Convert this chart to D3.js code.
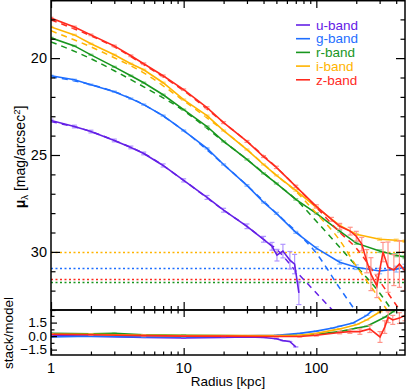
<!DOCTYPE html>
<meta charset="utf-8">
<style>
  body { margin: 0; background: #fff; }
  text { font-family: "Liberation Sans", Arial, sans-serif; fill: #000; }
  .axis path { display: none; }
  .axis line { stroke: #000; stroke-width: 1.2px; }
</style>
<svg width="407" height="390"></svg>
<script src="https://d3js.org/d3.v7.min.js"></script>
<script>
  // band names + colours
  var bands = ["u-band", "g-band", "r-band", "i-band", "z-band"];
  var colors = ["#6420e6", "#1e6eff", "#18961e", "#ffb400", "#ff2a1e"];
  var light = ["#b196ff", "#8cbaff", "#8ed28e", "#ffd680", "#ff948a"];

  // surface brightness profiles (radius kpc, mag/arcsec^2, error)
  var uR = [1, 1.5, 2, 3, 4, 5, 7, 10, 15, 20, 30, 40, 46.3, 50.5, 56, 63.2, 68.6, 73.9];
  var uMag = [23.22, 23.53, 23.79, 24.25, 24.61, 24.92, 25.54, 26.31, 27.19, 27.85, 28.68, 29.35, 29.71, 30.17, 29.96, 30.43, 30.63, 32.12];
  var uErr = [0.07, 0.07, 0.07, 0.07, 0.07, 0.07, 0.08, 0.08, 0.1, 0.1, 0.12, 0.15, 0.2, 0.3, 0.35, 0.45, 0.5, 0.6];

  var gR = [1, 1.5, 2, 3, 4, 5, 7, 10, 15, 20, 30, 40, 50, 70, 100, 150, 200, 300, 400, 466];
  var gMag = [20.91, 21.12, 21.37, 21.73, 22.09, 22.40, 22.97, 23.74, 24.66, 25.49, 26.57, 27.44, 28.01, 28.99, 29.81, 30.53, 30.79, 30.99, 30.89, 30.79];
  var gErr = [0.03, 0.03, 0.03, 0.03, 0.03, 0.03, 0.03, 0.03, 0.03, 0.03, 0.04, 0.04, 0.05, 0.05, 0.07, 0.1, 0.12, 0.14, 0.15, 0.15];

  var rR = [1, 1.5, 2, 3, 4, 5, 7, 10, 15, 20, 30, 40, 50, 70, 100, 150, 200, 300, 400, 466];
  var rMag = [18.95, 19.37, 19.83, 20.45, 20.91, 21.27, 21.89, 22.66, 23.53, 24.30, 25.23, 25.95, 26.47, 27.29, 28.01, 28.93, 29.55, 29.96, 30.17, 30.27];
  var rErr = [0.03, 0.03, 0.03, 0.03, 0.03, 0.03, 0.03, 0.03, 0.03, 0.03, 0.03, 0.03, 0.03, 0.04, 0.04, 0.05, 0.06, 0.07, 0.08, 0.08];

  var iR = [1, 1.5, 2, 3, 4, 5, 7, 10, 15, 20, 30, 40, 50, 70, 100, 150, 200, 300, 400, 466];
  var iMag = [18.39, 18.80, 19.26, 19.83, 20.29, 20.60, 21.27, 22.14, 22.97, 23.74, 24.72, 25.49, 26.05, 26.83, 27.70, 28.63, 29.09, 29.35, 29.40, 29.45];
  var iErr = [0.03, 0.03, 0.03, 0.03, 0.03, 0.03, 0.03, 0.03, 0.03, 0.03, 0.03, 0.03, 0.03, 0.04, 0.04, 0.05, 0.05, 0.06, 0.06, 0.06];

  var zR = [1, 1.5, 2, 3, 4, 5, 7, 10, 15, 20, 30, 40, 50, 70, 100, 130, 150, 180, 200, 220, 240, 258, 286, 318, 347, 384, 423, 466];
  var zMag = [17.93, 18.39, 18.80, 19.37, 19.88, 20.29, 20.91, 21.63, 22.56, 23.33, 24.30, 25.08, 25.64, 26.62, 27.65, 28.32, 28.68, 28.93, 29.19, 29.60, 30.48, 31.15, 31.76, 30.01, 30.79, 30.94, 30.63, 30.99];
  var zErr = [0.04, 0.04, 0.04, 0.04, 0.04, 0.04, 0.04, 0.04, 0.05, 0.05, 0.05, 0.05, 0.06, 0.06, 0.08, 0.1, 0.15, 0.2, 0.25, 0.35, 0.6, 0.85, 0.6, 0.5, 1.3, 0.8, 1.2, 1.0];

  // model fits (dashed)
  var uModR = [1, 2, 3, 5, 10, 20, 30, 40, 50, 70, 100, 150];
  var uModMag = [23.28, 23.79, 24.25, 24.92, 26.31, 27.85, 28.68, 29.35, 29.86, 30.99, 32.12, 33.41];
  var gModR = [1, 2, 3, 5, 10, 20, 30, 50, 70, 100, 150, 200];
  var gModMag = [20.96, 21.37, 21.73, 22.40, 23.74, 25.49, 26.57, 28.01, 28.93, 30.07, 31.87, 33.10];
  var rModR = [1, 2, 3, 5, 10, 20, 30, 50, 70, 100, 150, 200, 300, 400];
  var rModMag = [19.16, 20.03, 20.65, 21.48, 22.71, 24.30, 25.23, 26.47, 27.29, 28.42, 29.76, 30.73, 32.12, 33.36];
  var iModR = [1, 2, 3, 5, 10, 20, 30, 50, 70, 100, 150, 200, 300, 400];
  var iModMag = [18.59, 19.42, 19.98, 20.76, 22.20, 23.74, 24.72, 26.05, 26.88, 28.01, 29.40, 30.73, 32.43, 33.72];
  var zModR = [1, 2, 3, 5, 10, 20, 30, 50, 70, 100, 150, 200, 300, 400, 466];
  var zModMag = [18.03, 18.85, 19.42, 20.34, 21.68, 23.33, 24.30, 25.64, 26.62, 27.70, 28.99, 29.81, 31.51, 32.74, 33.36];

  // sky levels (dotted), g r i z
  var skyBand = [1, 2, 3, 4];
  var skyMag = [30.82, 31.56, 30.0, 31.39];

  // residuals, lower panel
  var uResR = [1, 2, 5, 10, 20, 30, 40, 50, 56, 63, 70];
  var uRes = [0.05, 0.0, -0.15, -0.2, -0.15, -0.1, -0.15, -0.3, -0.5, -0.6, -1.2];
  var gResR = [1, 2, 5, 10, 20, 50, 75, 100, 133, 150, 189, 240, 262, 300];
  var gRes = [-0.1, 0.0, -0.1, -0.1, 0.0, 0.1, 0.3, 0.55, 0.9, 1.1, 1.45, 2.3, 2.8, 3.5];
  var rResR = [1, 2, 3, 5, 10, 20, 50, 75, 100, 150, 203, 240, 328, 377, 420];
  var rRes = [0.3, 0.25, 0.3, 0.15, 0.1, 0.05, 0.0, 0.1, 0.2, 0.5, 0.9, 1.1, 2.1, 2.7, 3.2];
  var iResR = [1, 2, 5, 10, 20, 50, 75, 100, 150, 203, 240, 302, 330];
  var iRes = [0.2, 0.2, 0.1, 0.05, 0.05, 0.05, 0.1, 0.3, 0.8, 1.3, 1.8, 2.7, 3.2];
  var zResR = [1, 2, 5, 10, 20, 50, 75, 100, 150, 179, 213, 253, 302, 328, 348, 377, 423, 466];
  var zRes = [0.2, 0.15, 0.05, 0.0, 0.0, -0.05, -0.05, 0.1, 0.4, 0.5, 0.5, 0.8, -0.1, 1.0, 2.1, 1.8, 2.0, 2.3];
  var zResErr = [0.05, 0.05, 0.05, 0.05, 0.05, 0.05, 0.05, 0.1, 0.15, 0.2, 0.3, 0.4, 0.6, 0.7, 0.6, 0.5, 0.6, 0.6];

  var xTicksMajor = [1, 10, 100];
  var xTickLabels = ["1", "10", "100"];
  var yTicksMain = [20, 25, 30];
  var yTicksRes = [-1.5, 0, 1.5];

  var svg = d3.select("svg");
  var x = d3.scaleLog().domain([1, 466]).range([51, 405]);
  var y = d3.scaleLinear().domain([17, 33]).range([0, 310]);
  var yr = d3.scaleLinear().domain([-2.1, 2.9]).range([355, 310]);

  var xMinor = [];
  [1, 10, 100].forEach(function(d) {
    for (var k = 2; k <= 9; k++) if (d * k <= 466) xMinor.push(d * k);
  });

  var defs = svg.append("defs");
  defs.append("clipPath").attr("id", "clipTop")
    .append("rect").attr("x", 51).attr("y", 0).attr("width", 354).attr("height", 310);
  defs.append("clipPath").attr("id", "clipBot")
    .append("rect").attr("x", 51).attr("y", 310).attr("width", 354).attr("height", 45);

  var pack = function(rs, vs, es) {
    return rs.map(function(r, i) { return { r: r, v: vs[i], e: es ? es[i] : 0 }; });
  };

  var data = [pack(uR, uMag, uErr), pack(gR, gMag, gErr), pack(rR, rMag, rErr), pack(iR, iMag, iErr), pack(zR, zMag, zErr)];
  var models = [pack(uModR, uModMag), pack(gModR, gModMag), pack(rModR, rModMag), pack(iModR, iModMag), pack(zModR, zModMag)];
  var resids = [pack(uResR, uRes), pack(gResR, gRes), pack(rResR, rRes), pack(iResR, iRes), pack(zResR, zRes, zResErr)];

  var gMain = svg.append("g").attr("clip-path", "url(#clipTop)");
  var line = d3.line().x(function(d) { return x(d.r); }).y(function(d) { return y(d.v); });
  var smooth = d3.line().curve(d3.curveMonotoneX).x(function(d) { return x(d.r); }).y(function(d) { return y(d.v); });

  // sky dotted lines
  gMain.selectAll(".sky").data(skyMag).enter().append("line")
    .attr("x1", 51).attr("x2", 405)
    .attr("y1", function(d) { return Math.round(y(d)) + 0.5; })
    .attr("y2", function(d) { return Math.round(y(d)) + 0.5; })
    .attr("stroke", function(d, i) { return colors[skyBand[i]]; })
    .attr("stroke-width", 1.6)
    .attr("stroke-dasharray", "2,2.5");

  function errorBars(g, pts, i, yScale) {
    var eb = g.append("g").attr("stroke", light[i]).attr("stroke-width", 1.2);
    pts.forEach(function(d) {
      var cx = x(d.r), y1 = yScale(d.v - d.e), y2 = yScale(d.v + d.e);
      eb.append("line").attr("x1", cx).attr("x2", cx).attr("y1", y1).attr("y2", y2);
      eb.append("line").attr("x1", cx - 2.5).attr("x2", cx + 2.5).attr("y1", y1).attr("y2", y1);
      eb.append("line").attr("x1", cx - 2.5).attr("x2", cx + 2.5).attr("y1", y2).attr("y2", y2);
    });
  }

  // draw bands, u first so z sits on top
  data.forEach(function(pts, i) {
    gMain.append("path").datum(models[i])
      .attr("fill", "none").attr("stroke", colors[i]).attr("stroke-width", 1.5)
      .attr("stroke-dasharray", "6,5")
      .attr("d", smooth);
    errorBars(gMain, pts, i, y);
    gMain.append("path").datum(pts)
      .attr("fill", "none").attr("stroke", colors[i]).attr("stroke-width", 1.6)
      .attr("d", line);
  });

  // residual panel
  var gRes2 = svg.append("g").attr("clip-path", "url(#clipBot)");
  var rline = d3.line().x(function(d) { return x(d.r); }).y(function(d) { return yr(d.v); });
  resids.forEach(function(pts, i) {
    errorBars(gRes2, pts, i, yr);
    gRes2.append("path").datum(pts)
      .attr("fill", "none").attr("stroke", colors[i]).attr("stroke-width", 1.6)
      .attr("d", rline);
  });

  // axes
  function xAxes(gen, yPos, len, minLen) {
    svg.append("g").attr("class", "axis").attr("transform", "translate(0," + yPos + ")")
      .call(gen(x).tickValues(xTicksMajor).tickSize(len).tickFormat(""));
    svg.append("g").attr("class", "axis").attr("transform", "translate(0," + yPos + ")")
      .call(gen(x).tickValues(xMinor).tickSize(minLen).tickFormat(""));
  }
  xAxes(d3.axisBottom, 0, 8, 4);      // top of main panel, ticks point down
  xAxes(d3.axisTop, 310, 8, 4);       // bottom of main panel
  xAxes(d3.axisBottom, 310, 7, 3.5);  // top of residual panel
  xAxes(d3.axisTop, 355, 7, 3.5);     // bottom of residual panel

  var yMinor = d3.range(17, 34).filter(function(d) { return yTicksMain.indexOf(d) < 0; });
  [[d3.axisRight, 51], [d3.axisLeft, 405]].forEach(function(a) {
    svg.append("g").attr("class", "axis").attr("transform", "translate(" + a[1] + ",0)")
      .call(a[0](y).tickValues(yTicksMain).tickSize(9).tickFormat(""));
    svg.append("g").attr("class", "axis").attr("transform", "translate(" + a[1] + ",0)")
      .call(a[0](y).tickValues(yMinor).tickSize(4.5).tickFormat(""));
    svg.append("g").attr("class", "axis").attr("transform", "translate(" + a[1] + ",0)")
      .call(a[0](yr).tickValues(yTicksRes).tickSize(6).tickFormat(""));
    svg.append("g").attr("class", "axis").attr("transform", "translate(" + a[1] + ",0)")
      .call(a[0](yr).tickValues([-0.75, 0.75, 2.25]).tickSize(3.5).tickFormat(""));
  });

  // frames
  svg.append("rect").attr("x", 51).attr("y", 0.7).attr("width", 354).attr("height", 309.3)
    .attr("fill", "none").attr("stroke", "#000").attr("stroke-width", 1.5);
  svg.append("rect").attr("x", 51).attr("y", 310).attr("width", 354).attr("height", 45)
    .attr("fill", "none").attr("stroke", "#000").attr("stroke-width", 1.5);

  // tick labels
  svg.selectAll(".ylab").data(yTicksMain).enter().append("text")
    .attr("x", 47).attr("y", function(d) { return y(d); }).attr("dy", "0.36em")
    .attr("text-anchor", "end").attr("font-size", 14.5).text(function(d) { return d; });
  svg.selectAll(".rlab").data(yTicksRes).enter().append("text")
    .attr("x", 47).attr("y", function(d) { return yr(d); }).attr("dy", "0.36em")
    .attr("text-anchor", "end").attr("font-size", 13.5)
    .text(function(d) { return d < 0 ? "\u2212" + (-d).toFixed(1) : d.toFixed(1); });
  svg.selectAll(".xlab").data(xTicksMajor).enter().append("text")
    .attr("x", function(d) { return x(d); }).attr("y", 373)
    .attr("text-anchor", "middle").attr("font-size", 14.5)
    .text(function(d, i) { return xTickLabels[i]; });

  svg.append("text").attr("x", 228).attr("y", 386).attr("text-anchor", "middle")
    .attr("font-size", 13.5).text("Radius [kpc]");

  var yl = svg.append("text").attr("transform", "translate(25,157) rotate(-90)")
    .attr("text-anchor", "middle").attr("font-size", 14);
  yl.append("tspan").attr("font-weight", "bold").text("\u03bc");
  yl.append("tspan").attr("font-size", 9.5).attr("dy", 3).text("\u03bb");
  yl.append("tspan").attr("dy", -3).text(" [mag/arcsec");
  yl.append("tspan").attr("font-size", 9.5).attr("dy", -5).text("2");
  yl.append("tspan").attr("dy", 5).text("]");

  svg.append("text").attr("transform", "translate(13,333) rotate(-90)")
    .attr("text-anchor", "middle").attr("font-size", 13.5).text("stack/model");

  // legend
  var leg = svg.append("g");
  bands.forEach(function(b, i) {
    var ly = 25 + i * 13.7;
    leg.append("line").attr("x1", 296).attr("x2", 310).attr("y1", ly).attr("y2", ly)
      .attr("stroke", colors[i]).attr("stroke-width", 1.6);
    leg.append("text").attr("x", 316).attr("y", ly).attr("dy", "0.35em")
      .attr("font-size", 13.5).style("fill", colors[i]).text(b);
  });
</script>
